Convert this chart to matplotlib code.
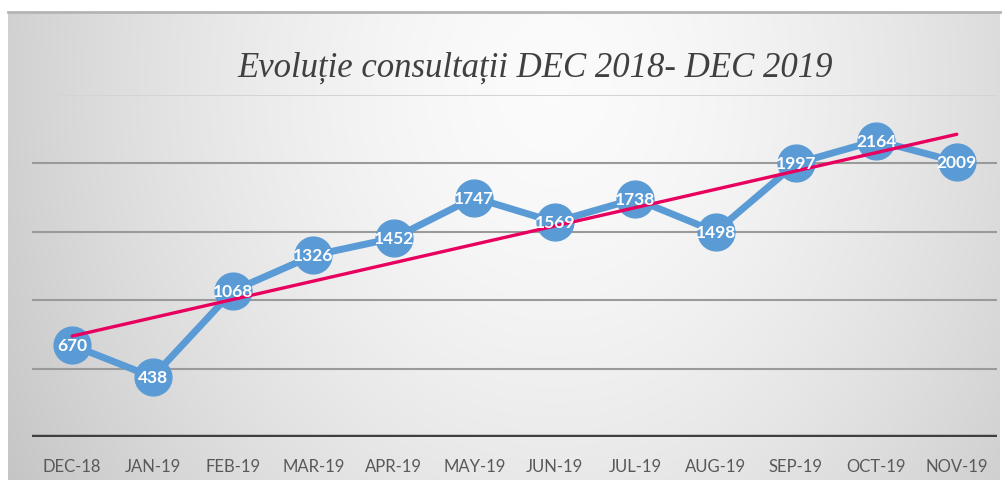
import numpy as np
import matplotlib
matplotlib.use("Agg")
import matplotlib.pyplot as plt

categories = ["DEC-18", "JAN-19", "FEB-19", "MAR-19", "APR-19", "MAY-19",
              "JUN-19", "JUL-19", "AUG-19", "SEP-19", "OCT-19", "NOV-19"]
values = [670, 438, 1068, 1326, 1452, 1747, 1569, 1738, 1498, 1997, 2164, 2009]
title = "Evoluție consultații DEC 2018- DEC 2019"

W, H = 1008, 481
fig = plt.figure(figsize=(W / 100, H / 100), dpi=100)
fig.patch.set_facecolor("white")

# background gradient panel
bx0, bx1, by0, by1 = 8, 1000, 0, 468  # pixel extents (by from bottom)
bg = fig.add_axes([bx0 / W, by0 / H, (bx1 - bx0) / W, (by1 - by0) / H])
nx, ny = 400, 200
gx, gy = np.meshgrid(np.linspace(0, 1, nx), np.linspace(0, 1, ny))
r = np.sqrt(((gx - 0.55) / 0.62) ** 2 + ((gy - 0.15) / 1.6) ** 2)
val = 0.985 - 0.20 * np.clip(r, 0, 1.2) ** 1.6
val = np.clip(val, 0.72, 1.0)
img = np.dstack([val, val, val])
bg.imshow(img, aspect="auto", origin="upper", extent=[0, 1, 0, 1], interpolation="bilinear")
bg.set_xlim(0, 1)
bg.set_ylim(0, 1)
bg.axis("off")
bg.plot([0, 1], [0.999, 0.999], color="#b4b4b4", lw=2, transform=bg.transAxes, clip_on=False)

# main axes
left, right = 32, 997
top, bottom = 95.5, 438
ax = fig.add_axes([left / W, (H - bottom) / H, (right - left) / W, (bottom - top) / H])
ax.patch.set_alpha(0)
x = np.arange(len(categories))
ax.set_xlim(-0.5, len(categories) - 0.5)
ax.set_ylim(0, 2500)

for g in [500, 1000, 1500, 2000]:
    ax.axhline(g, color="#9a9a9a", lw=1.5, zorder=1)
ax.axhline(2500, color="#d4d4d4", lw=1.5, zorder=1)
ax.axhline(0, color="#3f3f3f", lw=3.2, zorder=2)

ax.plot(x, values, color="#5b9bd5", lw=5, marker="o", markersize=26.5,
        markerfacecolor="#5b9bd5", markeredgecolor="#5b9bd5", zorder=3,
        solid_joinstyle="round", clip_on=False)

coef = np.polyfit(x, values, 1)
trend = np.polyval(coef, x)
ax.plot(x, trend, color="#e8005f", lw=2.4, zorder=4, solid_capstyle="round")

for xi, v in zip(x, values):
    ax.text(xi, v, str(v), ha="center", va="center", color="white",
            fontsize=12.5, fontweight="bold", family=["Lato", "DejaVu Sans"], zorder=5)

ax.set_xticks(x)
ax.set_xticklabels(categories, fontsize=12, color="#595959", family=["Lato", "DejaVu Sans"])
ax.tick_params(axis="x", length=0, pad=15)
ax.set_yticks([])
for s in ax.spines.values():
    s.set_visible(False)

fig.text(535 / W, 1 - 68 / H, title, ha="center", va="center",
         fontsize=25, style="italic", color="#404040", family=["Liberation Serif", "DejaVu Serif"])

fig.savefig("out.png", dpi=100)
